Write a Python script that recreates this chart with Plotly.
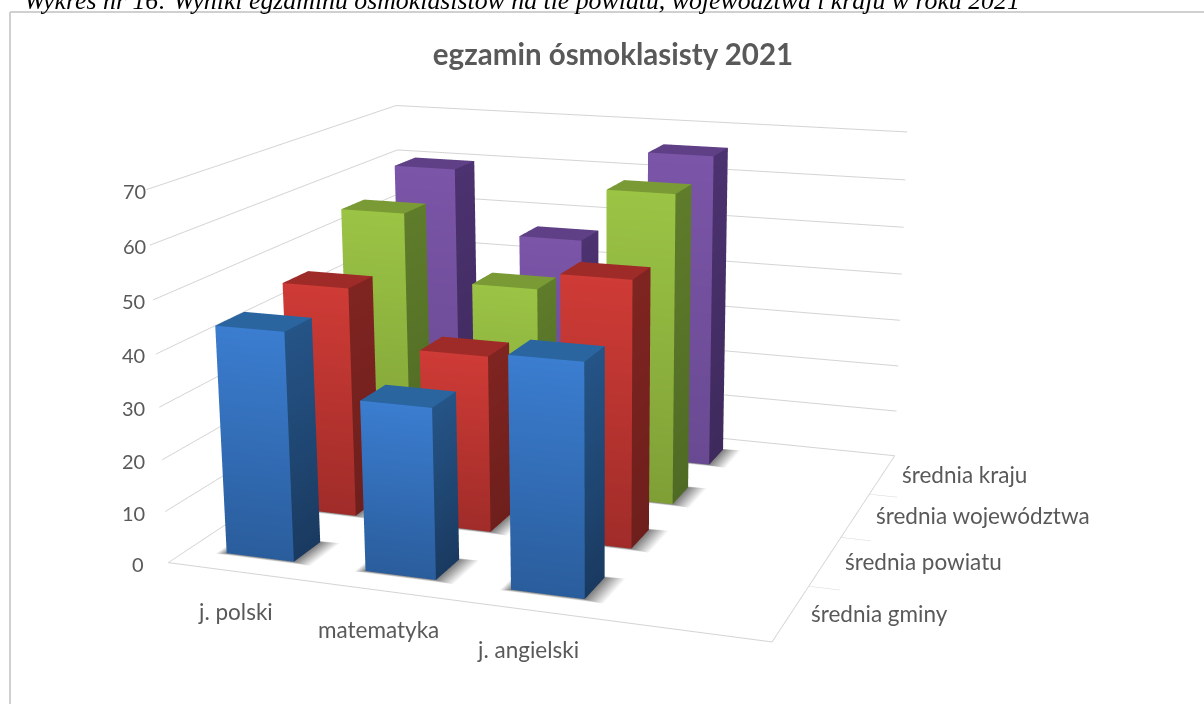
import plotly.graph_objects as go

categories = ["j. polski", "matematyka", "j. angielski"]
series_names = ["średnia gminy", "średnia powiatu", "średnia województwa", "średnia kraju"]
gmina = [44, 32.5, 43.5]
powiat = [46, 35, 52]
wojewodztwo = [55.5, 42, 63]
kraj = [60, 46.5, 66]
z_ticks = [0, 10, 20, 30, 40, 50, 60, 70]

CAT0, CATSTEP = 0.387, 0.745
ROW0, ROWSTEP = 0.5, 1.0
BW, BD = 0.365, 0.41
FOVY = 0.3361

fig = go.Figure()
cols = [("#3b7dd0", "#2a5d9c", "#255487", "#1a3a60", "#2a659f"),
        ("#cf3b36", "#a02c29", "#7f2421", "#6e1f1c", "#9e2b28"),
        ("#9bc445", "#7f9f36", "#5f7c2b", "#4f6a24", "#7a9a36"),
        ("#7b55a8", "#694a92", "#4c3270", "#3e2a5c", "#5f3f85")]
flat = dict(ambient=1, diffuse=0, specular=0, roughness=1, fresnel=0)

for si, vals in enumerate([gmina, powiat, wojewodztwo, kraj]):
    for ci, v in enumerate(vals):
        xc = CAT0 + CATSTEP * ci
        yc = ROW0 + ROWSTEP * si
        x0, x1 = xc - BW / 2, xc + BW / 2
        y0, y1 = yc - BD / 2, yc + BD / 2
        # soft shadow on the floor
        ox0, ox1, oy0, oy1 = x0 - 0.05, x1 + 0.10, y0 - 0.035, y1 + 0.03
        X = [x0, x1, x1, x0, ox0, ox1, ox1, ox0]
        Y = [y0, y0, y1, y1, oy0, oy0, oy1, oy1]
        C = ["#808080"] * 4 + ["#ffffff"] * 4
        I, J, K = [0, 0], [1, 2], [2, 3]
        for a in range(4):
            b = (a + 1) % 4
            I += [a, a]; J += [a + 4, b + 4]; K += [b + 4, b]
        fig.add_trace(go.Mesh3d(x=X, y=Y, z=[0] * 8, i=I, j=J, k=K, vertexcolor=C, lighting=flat,
                                hoverinfo="skip", showscale=False))
        # bar
        ft, fb, st, sb, tp = cols[si]
        X = [x0, x1, x1, x0, x1, x1, x1, x1, x0, x1, x1, x0]
        Y = [y0, y0, y0, y0, y0, y1, y1, y0, y0, y0, y1, y1]
        Z = [0, 0, v, v, 0, 0, v, v, v, v, v, v]
        C = [fb, fb, ft, ft, sb, sb, st, st, tp, tp, tp, tp]
        fig.add_trace(go.Mesh3d(x=X, y=Y, z=Z, i=[0, 0, 4, 4, 8, 8], j=[1, 2, 5, 6, 9, 10], k=[2, 3, 6, 7, 10, 11],
                                vertexcolor=C, flatshading=True, lighting=flat, hoverinfo="skip", showscale=False))

ann = []
fnt = dict(family="Lato", size=22.5, color="#595959")
zfnt = dict(family="Lato", size=20, color="#595959")
for z in z_ticks:
    ann.append(dict(x=0, y=0, z=z, text=str(z), showarrow=False, xanchor="right", xshift=-22 + z * 23 / 70, yshift=-1, font=zfnt))
for i, c in enumerate(categories):
    ann.append(dict(x=CAT0 + CATSTEP * i, y=0, z=0, text=c, showarrow=False, xshift=-4, yshift=-39, font=fnt))
for i, c in enumerate(series_names):
    ann.append(dict(x=3, y=i + .5, z=0, text=c, showarrow=False, xanchor="left", xshift=18, font=fnt))

ax_common = dict(showbackground=False, showspikes=False, zeroline=False, title="", showticklabels=False,
                 linecolor="#d4d4d4", gridcolor="#d4d4d4", gridwidth=2)
fig.update_layout(
    width=1204, height=704, margin=dict(l=0, r=0, t=0, b=0), paper_bgcolor="white", showlegend=False,
    title=dict(text="<b>egzamin ósmoklasisty 2021</b>", x=613 / 1204, xanchor="center", y=1 - 55 / 704, yanchor="middle",
               font=dict(family="Lato", size=29.5, color="#595959")),
    scene=dict(domain=dict(x=[0, 1], y=[0, 1]), aspectmode="manual", aspectratio=dict(x=1.0785, y=1.0, z=0.6572),
               camera=dict(eye=dict(x=1.2632, y=-3.4592, z=0.9670), center=dict(x=0.0862, y=0, z=-0.0233),
                           up=dict(x=0, y=0, z=1)),
               xaxis=dict(range=[0, 3], showgrid=False, showline=True, tickvals=[], linewidth=2, **ax_common),
               yaxis=dict(range=[0, 4], showgrid=False, showline=True, tickvals=[1, 2, 3], ticks="outside", ticklen=5,
                          tickcolor="#d4d4d4", linewidth=2, **ax_common),
               zaxis=dict(range=[0, 70], showgrid=True, showline=False, tickvals=z_ticks, **ax_common),
               annotations=ann),
    shapes=[dict(type="line", xref="paper", yref="paper", x0=10 / 1204, x1=10 / 1204, y0=0, y1=1 - 12 / 704,
                 line=dict(color="#d0d0d0", width=2)),
            dict(type="line", xref="paper", yref="paper", x0=10 / 1204, x1=1, y0=1 - 12 / 704, y1=1 - 12 / 704,
                 line=dict(color="#d0d0d0", width=2))],
    annotations=[dict(xref="paper", yref="paper", x=22 / 1204, y=1, xanchor="left", yanchor="middle", showarrow=False,
                      text="<i>Wykres nr 16: Wyniki egzaminu ósmoklasistów na tle powiatu, województwa i kraju w roku 2021</i>",
                      font=dict(family="Liberation Serif", size=25.8, color="black"))],
)
post = "document.body.style.margin='0';document.body.style.overflow='hidden';"
post += ("var g=document.getElementById('{plot_id}');var s=g._fullLayout.scene._scene;s.glplot.fovy=%f;"
         "s.glplot.redraw();setTimeout(function(){s.glplot.redraw();},100);" % FOVY)
fig.write_html("out.html", post_script=post, config=dict(displayModeBar=False))
